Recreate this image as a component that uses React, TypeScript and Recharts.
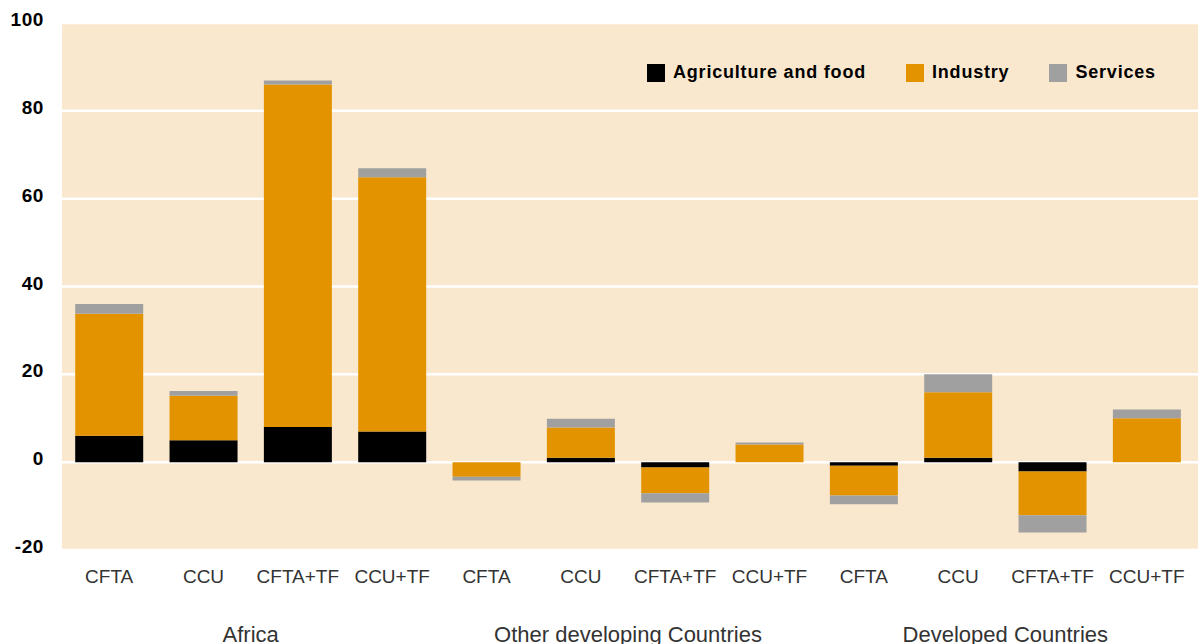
import { Bar, BarChart, CartesianGrid, Legend, XAxis, YAxis } from "recharts";

const scenarios = [
  "CFTA", "CCU", "CFTA+TF", "CCU+TF",
  "CFTA", "CCU", "CFTA+TF", "CCU+TF",
  "CFTA", "CCU", "CFTA+TF", "CCU+TF",
];
const groups = [
  "Africa", "Africa", "Africa", "Africa",
  "Other developing Countries", "Other developing Countries", "Other developing Countries", "Other developing Countries",
  "Developed Countries", "Developed Countries", "Developed Countries", "Developed Countries",
];
const agriculture = [6, 5, 8, 7, 0, 1, -1.2, 0, -0.8, 1, -2.1, 0];
const industry = [27.8, 10.1, 78, 57.9, -3.3, 6.9, -5.9, 4, -6.8, 14.9, -10, 10];
const services = [2.2, 1.1, 0.9, 2, -0.9, 2, -2.1, 0.5, -2, 4.1, -3.9, 2];
const yTicks = [-20, 0, 20, 40, 60, 80, 100];

const data = scenarios.map((s, i) => ({
  scenario: s,
  group: groups[i],
  agri: agriculture[i],
  industry: industry[i],
  services: services[i],
}));

const YTick = (props: any) => {
  const { x, y, payload } = props;
  return (
    <text x={x} y={y} dy={3} textAnchor="end" fontSize={19} fontWeight="bold" fill="#000" letterSpacing={0.6}>
      {payload.value}
    </text>
  );
};

const LegendContent = (props: any) => {
  const { payload } = props;
  return (
    <div style={{ display: "flex", alignItems: "center" }}>
      {(payload || []).map((p: any, i: number) => (
        <div key={p.value} style={{ display: "flex", alignItems: "center", marginLeft: i === 0 ? 0 : 40 }}>
          <span style={{ width: 18, height: 18, background: p.color, display: "inline-block", marginRight: 8 }} />
          <span style={{ fontSize: 18, fontWeight: "bold", color: "#000", letterSpacing: 0.8 }}>{p.value}</span>
        </div>
      ))}
    </div>
  );
};

export default function App() {
  return (
    <div style={{ position: "absolute", left: 0, top: 0, fontFamily: "'Liberation Sans', Arial, sans-serif" }}>
      <BarChart
        width={1198}
        height={644}
        data={data}
        stackOffset="sign"
        margin={{ top: 23, right: 0, left: 0, bottom: 0 }}
        barCategoryGap="14%"
      >
        <CartesianGrid vertical={false} stroke="#fff" strokeWidth={2.5} fill="#FAE8CE" fillOpacity={1} />
        <XAxis
          dataKey="scenario"
          allowDuplicatedCategory
          axisLine={false}
          tickLine={false}
          tickSize={6}
          tickMargin={14}
          height={50}
          interval={0}
          padding={{ left: 0, right: 4 }}
          tick={{ fontSize: 19, fill: "#333", fontFamily: "'Liberation Sans', Arial, sans-serif" }}
        />
        <XAxis
          xAxisId="group"
          dataKey="group"
          allowDuplicatedCategory={false}
          axisLine={false}
          tickLine={false}
          tickSize={6}
          tickMargin={20}
          height={44}
          interval={0}
          padding={{ left: 0, right: 4 }}
          tick={{ fontSize: 22, fill: "#333", fontFamily: "'Liberation Sans', Arial, sans-serif" }}
        />
        <YAxis
          domain={[-20, 100]}
          ticks={yTicks}
          axisLine={false}
          tickLine={false}
          width={62}
          tickSize={6}
          tickMargin={12}
          tick={<YTick />}
        />
        <Legend
          verticalAlign="middle"
          align="center"
          layout="horizontal"
          content={<LegendContent />}
          wrapperStyle={{ position: "absolute", top: 62, left: 647, width: "auto" }}
        />
        <Bar dataKey="agri" name="Agriculture and food" stackId="a" fill="#000000" isAnimationActive={false} />
        <Bar dataKey="industry" name="Industry" stackId="a" fill="#E39300" isAnimationActive={false} />
        <Bar dataKey="services" name="Services" stackId="a" fill="#A0A0A0" isAnimationActive={false} />
      </BarChart>
    </div>
  );
}
